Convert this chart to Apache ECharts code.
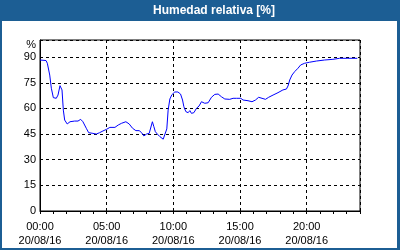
<!DOCTYPE html>
<html><head><meta charset="utf-8">
<script src="https://cdn.jsdelivr.net/npm/echarts@6/dist/echarts.min.js"></script>
<style>html,body{margin:0;padding:0;background:#fff}#c{width:400px;height:250px}</style>
</head><body><div id="c"></div>
<script>
var titleText = 'Humedad relativa [%]';
var dateLabel = '20/08/16';
var xTickHours = [0, 5, 10, 15, 20];
var yTicks = [0, 15, 30, 45, 60, 75, 90];
var hours = [0,0.45,0.55,0.73,0.85,1.00,1.22,1.35,1.50,1.65,1.75,1.85,2.04,2.25,2.40,2.60,2.85,3.05,3.22,3.47,3.65,3.97,4.22,4.47,4.72,5.00,5.24,5.62,5.87,6.12,6.44,6.69,6.94,7.19,7.44,7.62,7.79,7.99,8.19,8.29,8.43,8.54,8.65,8.80,8.99,9.24,9.36,9.51,9.61,9.74,9.89,10.11,10.34,10.54,10.69,10.79,10.94,11.11,11.24,11.36,11.54,11.74,11.93,12.11,12.36,12.61,12.86,13.11,13.36,13.61,13.86,14.23,14.48,14.73,14.85,15.06,15.23,15.60,15.90,16.16,16.40,16.65,16.91,17.15,17.48,17.85,18.22,18.48,18.60,18.73,18.90,19.10,19.35,19.55,19.85,20.22,20.73,21.35,21.97,22.47,23.09,23.80];
var humidity = [88.3,88.0,86.4,79.5,71.8,66.3,65.9,67.8,73.3,70.8,59.0,53.2,50.9,52.2,53.2,52.6,52.6,53.6,52.2,48.4,45.8,45.4,45.0,45.8,46.8,47.8,48.9,48.9,50.3,51.3,52.2,50.9,48.4,47.0,47.0,45.8,43.9,45.0,45.4,44.4,52.2,49.3,46.4,45.0,43.5,42.0,41.5,48.0,59.0,65.5,68.0,69.6,69.6,68.4,64.9,61.0,58.1,57.5,58.7,57.1,57.5,60.1,61.4,63.9,63.0,63.3,66.5,68.2,68.4,66.8,65.5,65.3,65.9,65.9,66.8,65.9,64.9,64.5,63.9,64.9,66.5,65.9,65.3,66.5,67.8,69.2,70.8,71.3,73.1,76.6,79.5,81.5,83.5,85.4,86.4,87.0,87.7,88.3,88.7,89.3,89.3,89.3];

var data = hours.map(function(h,i){return [h, humidity[i]];});
var font = 'Liberation Sans';
var chart = echarts.init(document.getElementById('c'), null, {renderer:'canvas'});
chart.setOption({
  animation: false,
  backgroundColor: '#ffffff',
  grid: {left: 40, top: 40, right: 40, bottom: 39, show: true, borderColor: '#000', borderWidth: 1},
  xAxis: {
    type: 'value', min: 0, max: 24, interval: 5,
    axisLine: {show: true, lineStyle: {color: '#000', width: 1}},
    axisTick: {show: true, length: 3, inside: false, lineStyle: {color: '#000'}},
    minorTick: {show: true, splitNumber: 5, length: 3, lineStyle: {color: '#000'}},
    splitLine: {show: true, lineStyle: {color: '#000', type: [3,3], width: 1}},
    axisLabel: {
      margin: 9, color: '#000', fontFamily: font, fontSize: 11, lineHeight: 14,
      formatter: function(v){
        if (xTickHours.indexOf(v) < 0) return '';
        var hh = (v < 10 ? '0' : '') + v;
        return hh + ':00\n' + dateLabel;
      }
    }
  },
  yAxis: {
    type: 'value', min: 0, max: 100, interval: 15,
    axisLine: {show: true, lineStyle: {color: '#000', width: 1}},
    axisTick: {show: false},
    splitLine: {show: true, lineStyle: {color: '#000', type: [3,3], width: 1}},
    axisLabel: {
      margin: 4, color: '#000', fontFamily: font, fontSize: 11,
      formatter: function(v){ return yTicks.indexOf(v) >= 0 ? String(v) : ''; }
    }
  },
  series: [{
    type: 'line', data: data, showSymbol: false, symbol: 'none',
    lineStyle: {color: '#0000ff', width: 1}, z: 5
  }],
  graphic: [
    {type: 'rect', shape: {x: 0, y: 0, width: 400, height: 21}, style: {fill: '#1c5e94'}, silent: true},
    {type: 'rect', shape: {x: 0, y: 0, width: 2, height: 250}, style: {fill: '#1c5e94'}, silent: true},
    {type: 'rect', shape: {x: 397, y: 0, width: 3, height: 250}, style: {fill: '#1c5e94'}, silent: true},
    {type: 'rect', shape: {x: 0, y: 248, width: 400, height: 2}, style: {fill: '#1c5e94'}, silent: true},
    {type: 'text', x: 214, y: 11, style: {text: titleText, fill: '#fff', font: 'bold 12px ' + font, textAlign: 'center', textVerticalAlign: 'middle'}},
    {type: 'text', x: 36, y: 45, style: {text: '%', fill: '#000', font: '11px ' + font, textAlign: 'right', textVerticalAlign: 'middle'}}
  ]
});
</script></body></html>
